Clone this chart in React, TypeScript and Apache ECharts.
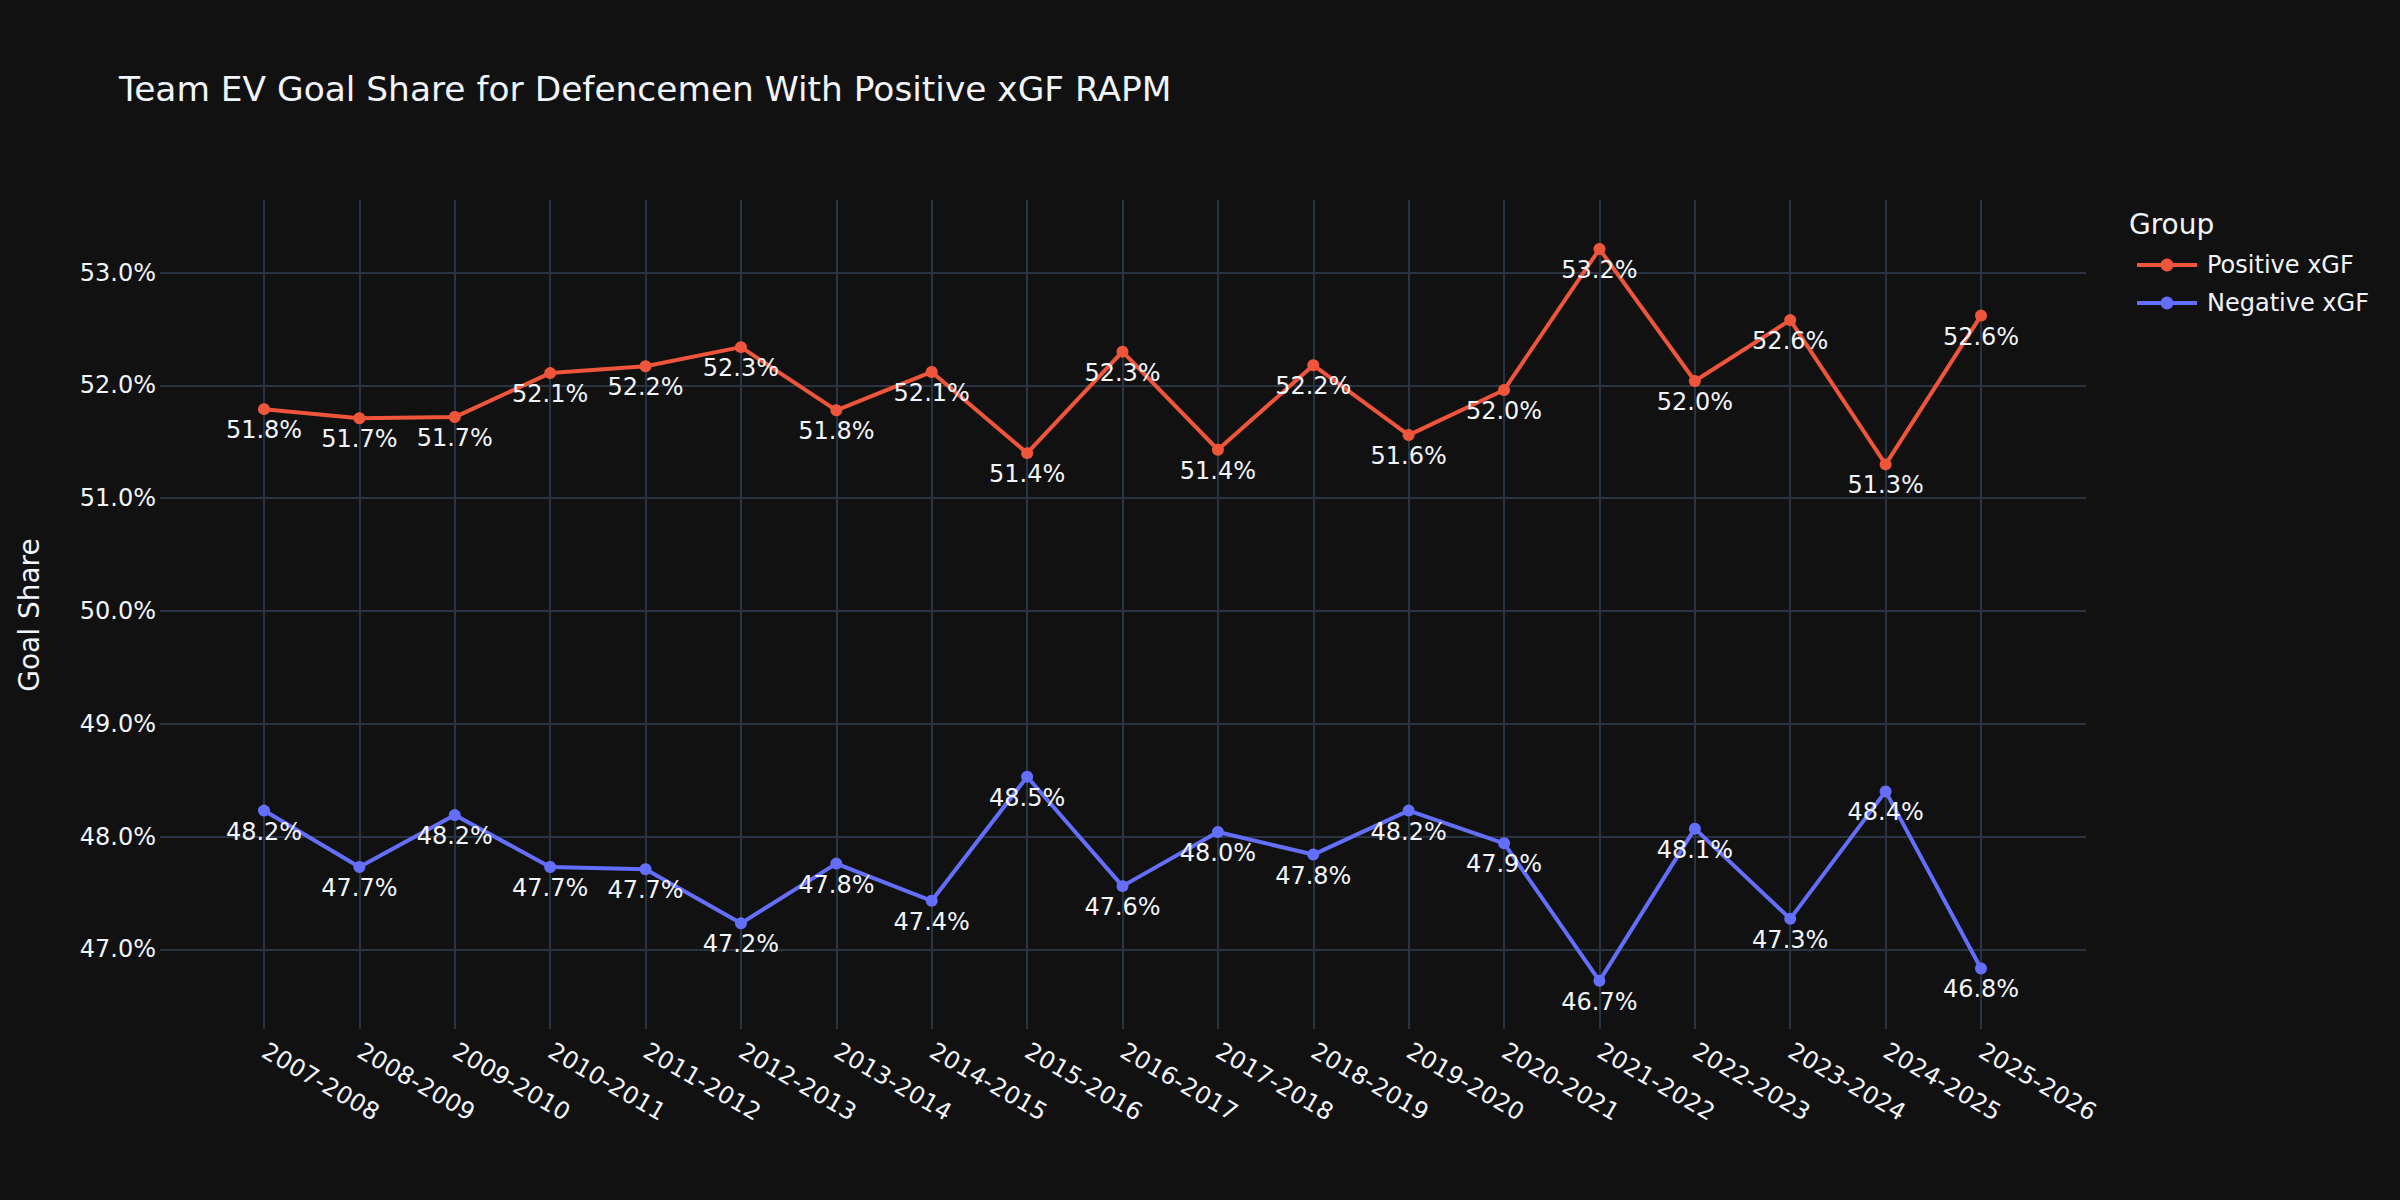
import React, { useEffect, useRef } from "react";
import * as echarts from "echarts";

const seasons = [
  "2007-2008", "2008-2009", "2009-2010", "2010-2011", "2011-2012", "2012-2013",
  "2013-2014", "2014-2015", "2015-2016", "2016-2017", "2017-2018", "2018-2019",
  "2019-2020", "2020-2021", "2021-2022", "2022-2023", "2023-2024", "2024-2025",
  "2025-2026",
];

const positiveXGF = [
  51.79, 51.71, 51.72, 52.11, 52.17, 52.34, 51.78, 52.12, 51.40, 52.30,
  51.43, 52.18, 51.56, 51.96, 53.21, 52.04, 52.58, 51.30, 52.62,
];

const negativeXGF = [
  48.23, 47.73, 48.19, 47.73, 47.71, 47.23, 47.76, 47.43, 48.53, 47.56,
  48.04, 47.84, 48.23, 47.94, 46.72, 48.07, 47.27, 48.40, 46.83,
];

const yTicks = [47, 48, 49, 50, 51, 52, 53];

const TITLE = "Team EV Goal Share for Defencemen With Positive xGF RAPM";
const FONT = "DejaVu Sans";
const TEXT = "#f2f5fa";
const GRID = "#283442";
const BG = "#111111";

export default function App() {
  const ref = useRef<HTMLDivElement>(null);

  useEffect(() => {
    document.body.style.margin = "0";
    document.body.style.background = BG;
    if (!ref.current) return;
    const chart = echarts.init(ref.current, undefined, { renderer: "svg" });
    const yMin = 46.293;
    const yMax = 53.645;
    const fmt = (v: number) => v.toFixed(1) + "%";
    const option: any = {
      animation: false,
      backgroundColor: BG,
      textStyle: { fontFamily: FONT, color: TEXT },
      title: {
        text: TITLE,
        left: 114,
        top: 67,
        textStyle: { fontFamily: FONT, fontSize: 34.4, fontWeight: "normal", color: TEXT },
      },
      legend: {
        orient: "vertical",
        left: 2130,
        top: 246,
        itemWidth: 60,
        itemHeight: 16,
        itemGap: 10,
        lineStyle: { width: 4 },
        textStyle: { fontFamily: FONT, fontSize: 24, color: TEXT, lineHeight: 28, padding: [0, 0, 0, 5] },
        data: ["Positive xGF", "Negative xGF"],
      },
      graphic: [
        {
          type: "text",
          left: 2129,
          top: 210,
          style: { text: "Group", fontFamily: FONT, fontSize: 28, fill: TEXT },
        },
        {
          type: "text",
          x: 29,
          y: 615,
          rotation: Math.PI / 2,
          style: {
            text: "Goal Share",
            fontFamily: FONT,
            fontSize: 28,
            fill: TEXT,
            align: "center",
            verticalAlign: "middle",
          },
        },
      ],
      grid: [
        { left: 160, right: 314, top: 200, bottom: 171, containLabel: false },
        { left: 264, right: 419, top: 200, bottom: 171, containLabel: false },
      ],
      xAxis: [
        { type: "value", gridIndex: 0, min: 0, max: 1, show: false },
        {
          type: "category",
          gridIndex: 1,
          data: seasons,
          boundaryGap: false,
          axisLine: { show: false },
          axisTick: { show: false },
          splitLine: { show: true, lineStyle: { color: GRID, width: 2 } },
          axisLabel: {
            rotate: -30,
            margin: 20,
            fontFamily: FONT,
            fontSize: 24,
            color: TEXT,
            interval: 0,
          },
        },
      ],
      yAxis: [
        {
          type: "value",
          gridIndex: 0,
          min: yMin,
          max: yMax,
          axisLine: { show: false },
          axisTick: { show: false, customValues: yTicks },
          splitLine: { show: true, lineStyle: { color: GRID, width: 2 } },
          axisLabel: {
            customValues: yTicks,
            formatter: (v: number) => fmt(v),
            margin: 4,
            fontFamily: FONT,
            fontSize: 24,
            color: TEXT,
          },
        },
        { type: "value", gridIndex: 1, min: yMin, max: yMax, show: false, splitLine: { show: false } },
      ],
      series: [
        {
          name: "Positive xGF",
          type: "line",
          xAxisIndex: 1,
          yAxisIndex: 1,
          data: positiveXGF,
          symbol: "circle",
          symbolSize: 12,
          color: "#EF553B",
          lineStyle: { width: 4, color: "#EF553B" },
          itemStyle: { color: "#EF553B" },
          label: {
            show: true,
            position: "bottom",
            distance: 3,
            formatter: (p: any) => fmt(p.value),
            fontFamily: FONT,
            fontSize: 24,
            color: TEXT,
          },
        },
        {
          name: "Negative xGF",
          type: "line",
          xAxisIndex: 1,
          yAxisIndex: 1,
          data: negativeXGF,
          symbol: "circle",
          symbolSize: 12,
          color: "#636EFA",
          lineStyle: { width: 4, color: "#636EFA" },
          itemStyle: { color: "#636EFA" },
          label: {
            show: true,
            position: "bottom",
            distance: 3,
            formatter: (p: any) => fmt(p.value),
            fontFamily: FONT,
            fontSize: 24,
            color: TEXT,
          },
        },
      ],
    };
    chart.setOption(option);
    return () => chart.dispose();
  }, []);

  return <div ref={ref} style={{ width: 2400, height: 1200 }} />;
}
